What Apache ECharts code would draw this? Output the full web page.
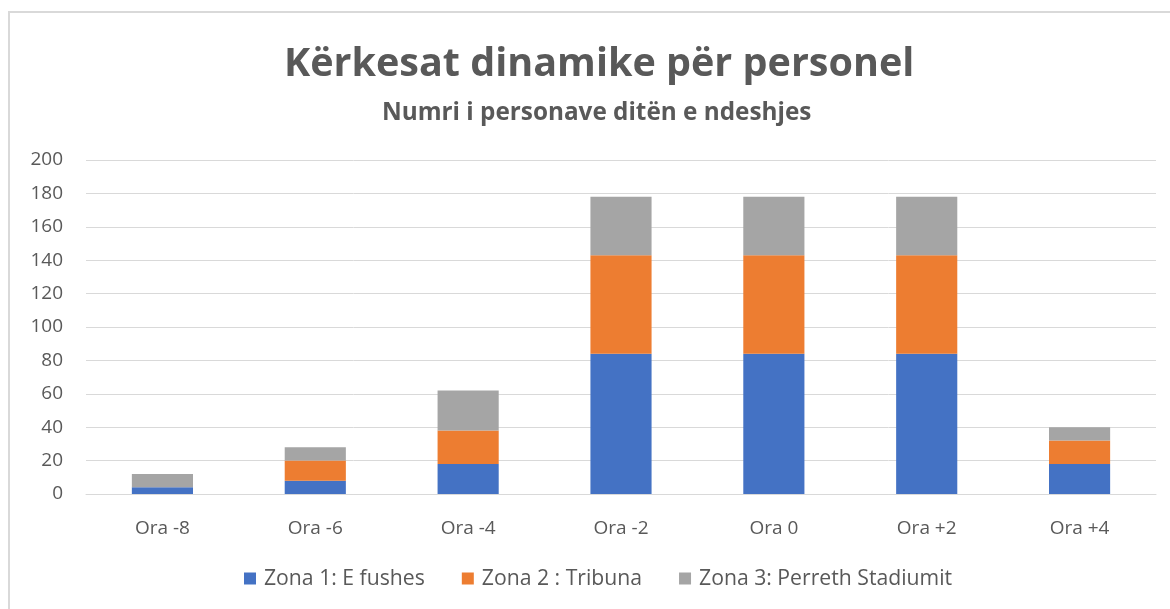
<!DOCTYPE html>
<html>
<head>
<meta charset="utf-8">
<script src="https://cdn.jsdelivr.net/npm/echarts@6/dist/echarts.min.js"></script>
<style>
html, body { margin: 0; padding: 0; background: #fff; overflow: hidden; }
#frame {
    position: absolute; left: 8px; top: 11px; width: 1200px; height: 700px;
    border: 2px solid #d9d9d9; box-sizing: border-box;
}
#chart { position: absolute; left: 0; top: 0; width: 1170px; height: 609px; }
</style>
</head>
<body>
<div id="frame"></div>
<div id="chart"></div>
<script>
const categories = ["Ora -8", "Ora -6", "Ora -4", "Ora -2", "Ora 0", "Ora +2", "Ora +4"];
const zona1 = [4, 8, 18, 84, 84, 84, 18];
const zona2 = [0, 12, 20, 59, 59, 59, 14];
const zona3 = [8, 8, 24, 35, 35, 35, 8];
const seriesNames = ["Zona 1: E fushes", "Zona 2 : Tribuna", "Zona 3: Perreth Stadiumit"];
const colors = ["#4472c4", "#ed7d31", "#a5a5a5"];

const font = "'Open Sans', sans-serif";
const textColor = "#595959";

const chart = echarts.init(document.getElementById("chart"));
const mkSeries = (name, values, color) => ({
    name: name,
    type: "bar",
    stack: "total",
    data: values,
    barCategoryGap: "60%",
    itemStyle: { color: color },
});
const option = {
    animation: false,
    textStyle: { fontFamily: font },
    title: [
        {
            text: "Kërkesat dinamike për personel",
            left: 279,
            top: 40,
            textStyle: { fontFamily: font, fontSize: 39.5, fontWeight: "bold", color: textColor },
        },
        {
            text: "Numri i personave ditën e ndeshjes",
            left: 377,
            top: 96,
            textStyle: { fontFamily: font, fontSize: 24.3, fontWeight: "bold", color: textColor },
        },
    ],
    legend: {
        bottom: 15,
        left: 239,
        itemWidth: 12,
        itemHeight: 12,
        itemGap: 37,
        icon: "rect",
        textStyle: { fontFamily: font, fontSize: 21.2, color: textColor, padding: [0, 0, 0, 3] },
    },
    grid: { left: 86, right: 14, top: 160, bottom: 115 },
    xAxis: {
        type: "category",
        data: categories,
        axisTick: { show: false },
        axisLine: { lineStyle: { color: "#d9d9d9", width: 1 } },
        axisLabel: { fontFamily: font, fontSize: 19, color: textColor, margin: 25 },
    },
    yAxis: {
        type: "value",
        min: 0,
        max: 200,
        interval: 20,
        axisLine: { show: false },
        axisTick: { show: false },
        splitLine: { lineStyle: { color: "#d9d9d9", width: 1 } },
        axisLabel: { fontFamily: font, fontSize: 19, color: textColor, margin: 23 },
    },
    series: [
        mkSeries(seriesNames[0], zona1, colors[0]),
        mkSeries(seriesNames[1], zona2, colors[1]),
        mkSeries(seriesNames[2], zona3, colors[2]),
    ],
};
chart.setOption(option);
</script>
</body>
</html>
